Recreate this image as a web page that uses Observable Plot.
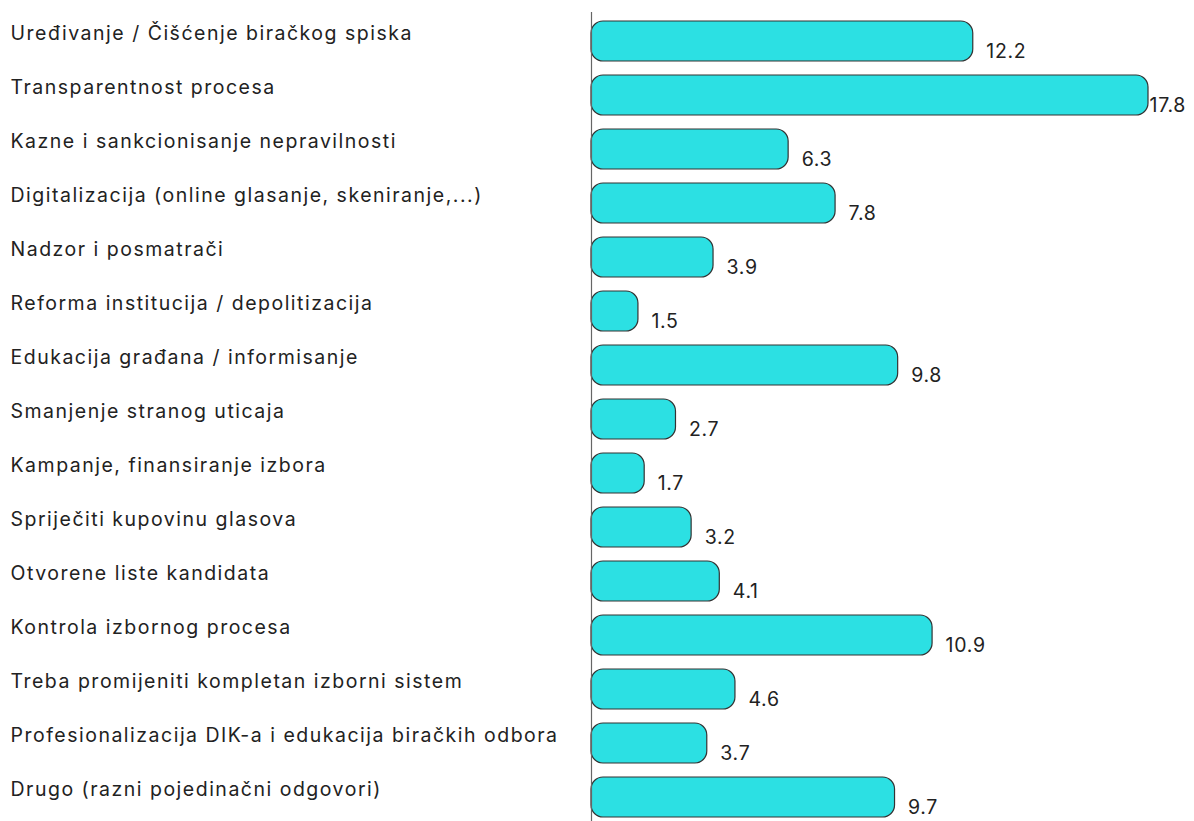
<!DOCTYPE html>
<html>
<head>
<meta charset="utf-8">
<script src="https://cdn.jsdelivr.net/npm/d3@7"></script>
<script src="https://cdn.jsdelivr.net/npm/@observablehq/plot@0.6"></script>
<style>
  html, body { margin: 0; padding: 0; background: #fff; }
  #chart svg g[aria-label="y-axis tick label"] text { letter-spacing: 1.5px; }
  #chart svg g[aria-label="text"] text { letter-spacing: 0.7px; }
</style>
</head>
<body>
<div id="chart"></div>
<script>
const categories = [
  "Uređivanje / Čišćenje biračkog spiska",
  "Transparentnost procesa",
  "Kazne i sankcionisanje nepravilnosti",
  "Digitalizacija (online glasanje, skeniranje,...)",
  "Nadzor i posmatrači",
  "Reforma institucija / depolitizacija",
  "Edukacija građana / informisanje",
  "Smanjenje stranog uticaja",
  "Kampanje, finansiranje izbora",
  "Spriječiti kupovinu glasova",
  "Otvorene liste kandidata",
  "Kontrola izbornog procesa",
  "Treba promijeniti kompletan izborni sistem",
  "Profesionalizacija DIK-a i edukacija biračkih odbora",
  "Drugo (razni pojedinačni odgovori)"
];
const values = [12.2, 17.8, 6.3, 7.8, 3.9, 1.5, 9.8, 2.7, 1.7, 3.2, 4.1, 10.9, 4.6, 3.7, 9.7];

const data = categories.map((c, i) => ({category: c, value: values[i]}));
const maxVal = d3.max(values);
const FONT = "Inter, 'Open Sans', sans-serif";

const chart = Plot.plot({
  width: 1194,
  height: 821,
  marginLeft: 591,
  marginRight: 46,
  marginTop: 20,
  marginBottom: 3,
  style: {fontFamily: FONT, fontSize: "18px", color: "#222", background: "#fff"},
  x: {domain: [0, maxVal], axis: null},
  y: {domain: categories, paddingInner: 0.267, paddingOuter: 0, axis: null},
  marks: [
    Plot.barX(data, {
      y: "category", x: "value",
      fill: "#2CE0E3", stroke: "#333", strokeWidth: 1.2, rx: 12
    }),
    Plot.ruleX([0], {stroke: "#666", strokeWidth: 1.2, insetTop: -8, insetBottom: -3}),
    Plot.axisY({
      label: null, tickSize: 0, tickPadding: 0, textAnchor: "start", dx: -581, dy: -8,
      fontSize: 19.5, fill: "#222", fontFamily: FONT
    }),
    Plot.text(data, {
      filter: d => d.value < maxVal,
      y: "category", x: "value", text: d => d.value.toFixed(1),
      textAnchor: "start", dx: 13, dy: 10, fontSize: 19.5, fill: "#222", fontFamily: FONT
    }),
    Plot.text(data, {
      filter: d => d.value === maxVal,
      y: "category", x: "value", text: d => d.value.toFixed(1),
      textAnchor: "start", dx: 1, dy: 10, fontSize: 19.5, fill: "#222", fontFamily: FONT
    })
  ]
});
document.getElementById("chart").appendChild(chart);
</script>
</body>
</html>
